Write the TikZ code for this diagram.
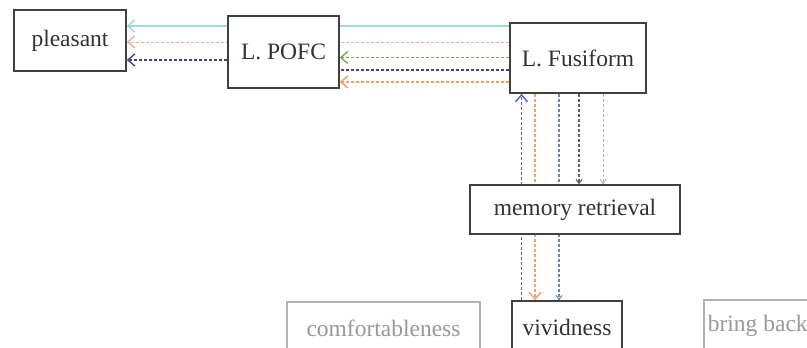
\documentclass[tikz,border=0pt]{standalone}
\usepackage{fontspec}
\setmainfont{Liberation Serif}
\usetikzlibrary{arrows.meta,backgrounds}
\definecolor{cCyan}{HTML}{9ED9D6}
\definecolor{cPink}{HTML}{E8B0A0}
\definecolor{cPurple}{HTML}{4B3F86}
\definecolor{cGreen}{HTML}{7FA35A}
\definecolor{cOrange}{HTML}{F0A066}
\definecolor{cBlue}{HTML}{4A62D0}
\definecolor{cSlate}{HTML}{7080B8}
\definecolor{cDark}{HTML}{5F5F55}
\definecolor{cTan}{HTML}{C8B0A0}
\begin{document}
\begin{tikzpicture}[x=1pt,y=-1pt,
  box/.style={draw=black!75, line width=1.5pt, fill=white, inner sep=0pt,
    font=\fontsize{23.5}{27}\selectfont, text=black!80},
  gbox/.style={box, draw=black!30, text=black!40},
  lnk/.style={line width=1.4pt, dash pattern=on 3pt off 2pt},
  tip/.style={-{Straight Barb[length=7pt,width=12pt,line width=1.4pt]}},
  smalltip/.style={-{Straight Barb[length=4pt,width=6pt,line width=1pt]}},
]
\useasboundingbox (0,0) rectangle (807,348);
\clip (0,0) rectangle (807,348);

\node[box, minimum width=112pt, minimum height=61pt] (pl) at (70,40.5) {pleasant};
\node[box, minimum width=111pt, minimum height=72pt] (po) at (283.5,52) {L. POFC};
\node[box, minimum width=136pt, minimum height=70pt] (fu) at (578,58) {L. Fusiform};
\node[box, minimum width=210pt, minimum height=49pt] (mr) at (575,209.5) {memory retrieval};
\node[gbox, minimum width=193pt, minimum height=52pt] (co) at (383.5,328) {comfortableness};
\node[box, minimum width=110pt, minimum height=52pt] (vi) at (567,327) {vividness};
\node[gbox, minimum width=108pt, minimum height=52pt, anchor=west] (bb) at (703,326) {bring back};

\begin{scope}[on background layer]
  \fill[white] (0,0) rectangle (807,348);
  % horizontal connectors
  \draw[tip, line width=1.1pt, draw=cCyan] (fu.west |- 0,26) -- (pl.east |- 0,26);
  \draw[tip, lnk, draw=cPink, line width=1pt] (fu.west |- 0,42) -- (pl.east |- 0,42);
  \draw[tip, lnk, draw=cPurple] (po.west |- 0,60) -- (pl.east |- 0,60);
  \draw[tip, lnk, draw=cGreen] (fu.west |- 0,57.5) -- (po.east |- 0,57.5);
  \draw[lnk, draw=cPurple] (fu.west |- 0,70) -- (po.east |- 0,70);
  \draw[tip, lnk, draw=cOrange] (fu.west |- 0,82) -- (po.east |- 0,82);
  % vertical connectors
  \draw[tip, lnk, draw=cBlue] (vi.north -| 521.5,0) -- (fu.south -| 521.5,0);
  \draw[tip, lnk, draw=cOrange] (fu.south -| 535,0) -- (vi.north -| 535,0);
  \draw[smalltip, lnk, draw=cSlate] (fu.south -| 559,0) -- (vi.north -| 559,0);
  \draw[smalltip, lnk, draw=cDark] (fu.south -| 579,0) -- (mr.north -| 579,0);
  \draw[smalltip, lnk, draw=cTan, line width=1pt] (fu.south -| 603,0) -- (mr.north -| 603,0);
\end{scope}
\end{tikzpicture}
\end{document}
